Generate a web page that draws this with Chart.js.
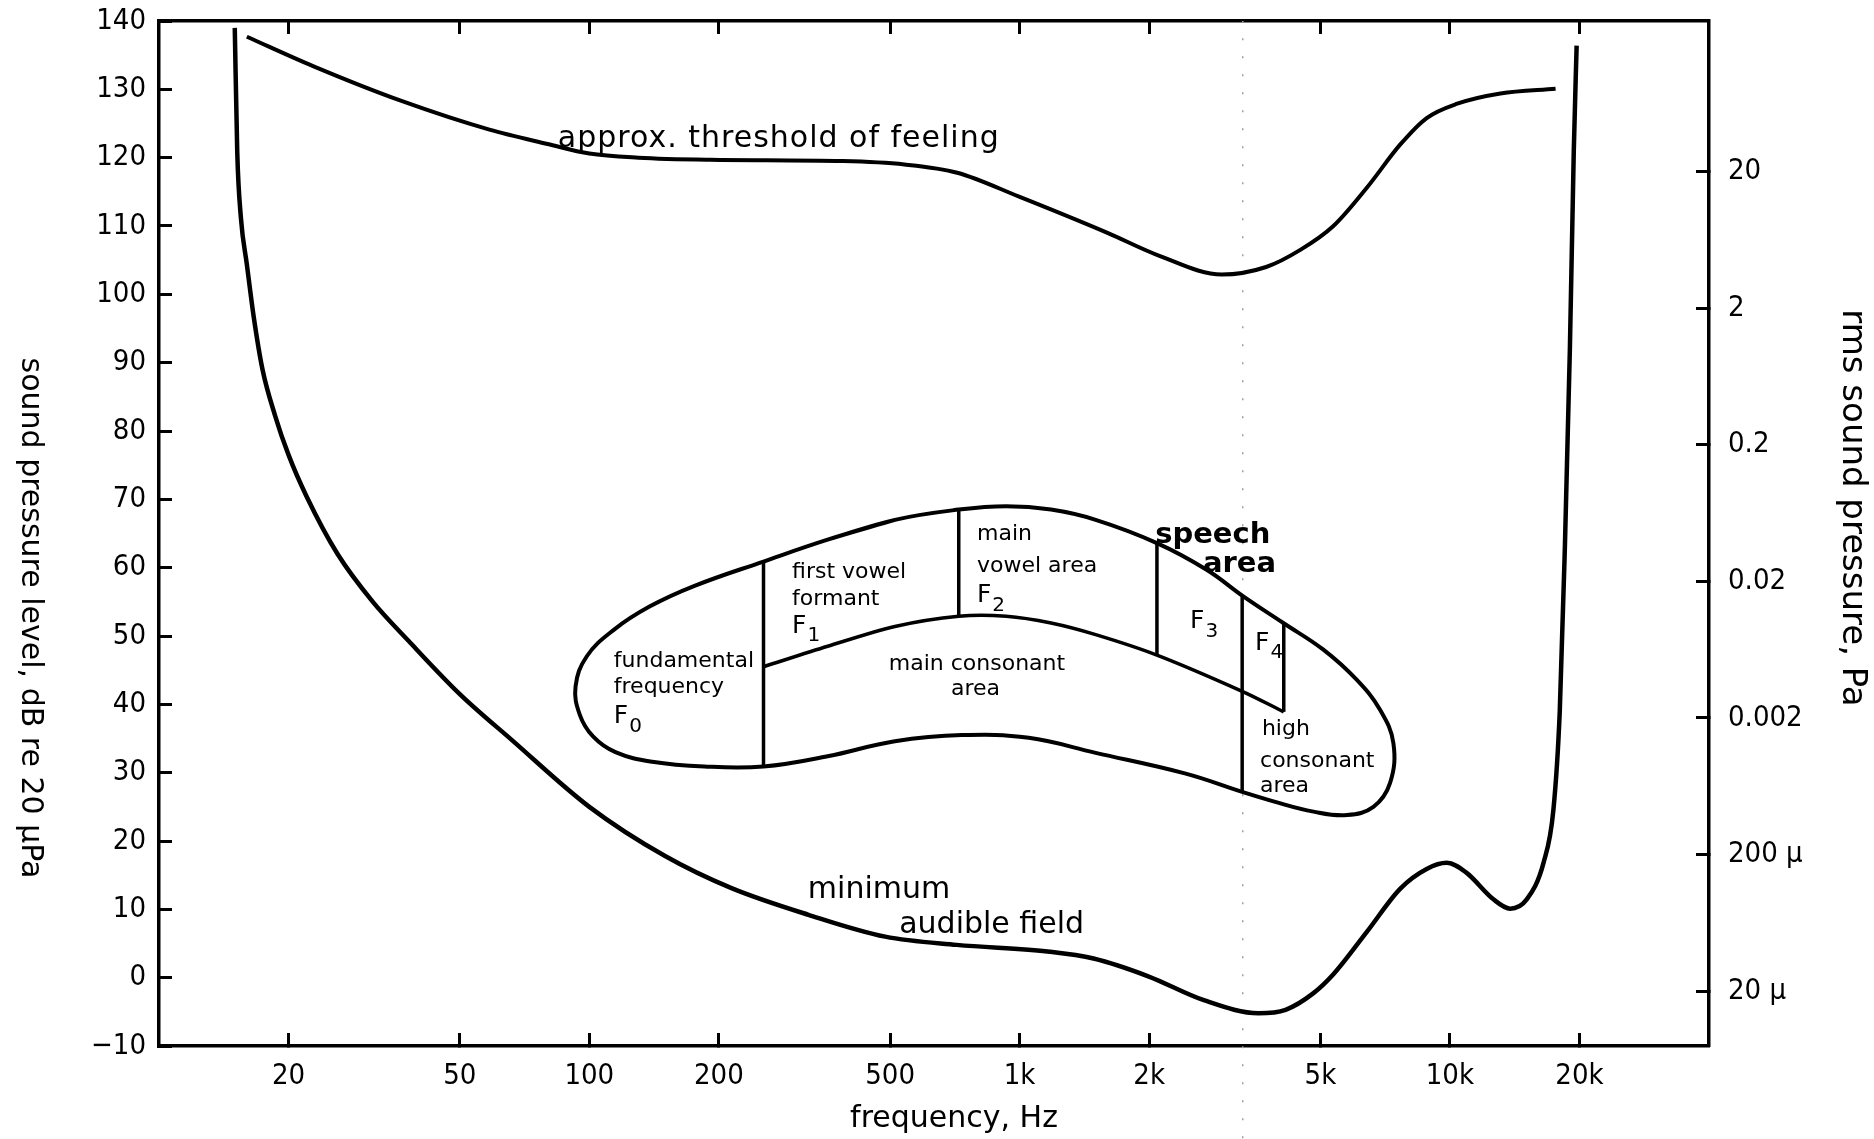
<!DOCTYPE html>
<html>
<head>
<meta charset="utf-8">
<title>Auditory field and speech area</title>
<script src="https://cdn.jsdelivr.net/npm/chart.js@4.4.1/dist/chart.umd.min.js"></script>
<style>
  html, body { margin: 0; padding: 0; background: #fff; }
  #wrap { width: 1874px; height: 1139px; position: relative; }
</style>
</head>
<body>
<div id="wrap"><canvas id="chart"></canvas></div>
<script>
"use strict";

const TICK_FONT = "'DejaVu Sans Condensed', 'DejaVu Sans', sans-serif";
const TEXT_FONT = "'DejaVu Sans', sans-serif";

// frequency axis (Hz)
const xTickValues = [20, 50, 100, 200, 500, 1000, 2000, 5000, 10000, 20000];
const xTickLabels = ["20", "50", "100", "200", "500", "1k", "2k", "5k", "10k", "20k"];

// sound pressure level axis (dB re 20 µPa)
const yTickValues = [-10, 0, 10, 20, 30, 40, 50, 60, 70, 80, 90, 100, 110, 120, 130, 140];
const yTickLabels = ["\u221210", "0", "10", "20", "30", "40", "50", "60", "70", "80", "90", "100", "110", "120", "130", "140"];

// rms sound pressure axis: where each Pa tick sits on the dB scale as printed
const paTickDb = [118, 98, 78, 58, 38, 18, -2];
const paTickLabels = ["20", "2", "0.2", "0.02", "0.002", "200 \u00b5", "20 \u00b5"];

// approx. threshold of feeling
const feelFreq = [16, 22.8, 36.6, 58.6, 80, 100, 130, 191, 388, 540, 716, 997, 1600, 2120, 2950, 3740, 4490, 5360, 6410, 7660, 8830, 10400, 13100, 17600];
const feelDb = [137.7, 133.4, 128.3, 124.1, 122, 120.6, 120, 119.7, 119.5, 119.0, 117.8, 114.3, 109, 105.6, 102.9, 104, 106.5, 110, 115.6, 121.9, 125.8, 127.9, 129.4, 130.1];

// minimum audible field
const mafFreq = [15, 15.2, 15.5, 16, 16.6, 17.4, 18.6, 20, 22, 26, 31.4, 38, 50, 66, 100, 150, 214, 323, 487, 714, 1175, 1485, 1990, 2680, 3590, 4150, 4810, 5360, 6410, 7660, 8830, 9830, 10900, 12600, 13800, 15100, 16500, 17400, 18000, 18500, 19000, 19400, 19700];
const mafDb = [139, 120.8, 111.2, 104.4, 96.7, 89, 82.3, 76.5, 70.5, 62, 55, 49.3, 41.5, 34.8, 25, 17.8, 13.1, 9.2, 6, 4.8, 3.8, 2.8, 0.2, -3.3, -5.2, -4.7, -2.3, 0.5, 6.7, 13, 15.9, 16.8, 15.4, 11.5, 10.1, 11.5, 16.8, 24.6, 39, 63.1, 92, 120.9, 136.4];

// speech area outline, clockwise from the top edge; the last two points retrace the first stretch to close it smoothly
const speechFreq = [358, 513, 722, 931, 1183, 1502, 2085, 2720, 3310, 4100, 5080, 6070, 6880, 7390, 7260, 6640, 5760, 4820, 3890, 3290, 2420, 1502, 1050, 734, 513, 358, 254, 185, 140, 115, 102, 95, 92.9, 98.6, 114, 138, 175, 254, 358, 513];
const speechDb = [64.1, 67.0, 68.5, 69.0, 68.5, 67.0, 63.6, 59.7, 55.8, 51.9, 48.0, 43.6, 39.2, 34.3, 28.5, 25.0, 23.8, 24.3, 25.8, 27.2, 29.9, 32.9, 35.1, 35.5, 34.6, 32.4, 30.9, 30.9, 31.6, 33.0, 35.3, 38.5, 42.6, 47.0, 50.9, 54.3, 57.3, 60.9, 64.1, 67.0];

// boundary between vowel and consonant areas
const splitFreq = [254, 358, 513, 722, 931, 1183, 1502, 2085, 3290, 4110];
const splitDb = [45.5, 48.5, 51.4, 52.9, 52.9, 51.9, 50.2, 47.2, 41.9, 38.9];

// vertical dividers inside the speech area
const dividerFreq = [254, 722, 2085, 3290, 4110];
const dividerLow = [30.9, 52.9, 47.2, 27.2, 38.9];
const dividerHigh = [60.9, 68.5, 63.6, 55.8, 51.9];

// faint dotted guide (runs on below the frame, as in the figure)
const guideFreq = 3300;
const guideDb = [-23.5, 140];

const toPoints = (xs, ys) => xs.map((x, i) => ({ x, y: ys[i] }));

const notes = [
  { text: "approx. threshold of feeling", f: 84.5, db: 121.5, size: 30, spacing: 1 },
  { text: "minimum", f: 322, db: 11.7, size: 30 },
  { text: "audible field", f: 525, db: 6.5, size: 30 },
  { text: "speech", f: 2065, db: 63.6, size: 29, weight: "bold" },
  { text: "area", f: 2667, db: 59.4, size: 29, weight: "bold" },
  { text: "fundamental", f: 114, db: 45.5, size: 22 },
  { text: "frequency", f: 114, db: 41.7, size: 22 },
  { text: "F", sub: "0", f: 114, db: 37.2, size: 25 },
  { text: "first vowel", f: 296, db: 58.5, size: 22 },
  { text: "formant", f: 296, db: 54.6, size: 22 },
  { text: "F", sub: "1", f: 296, db: 50.5, size: 25 },
  { text: "main", f: 796, db: 64.1, size: 22 },
  { text: "vowel area", f: 796, db: 59.4, size: 22 },
  { text: "F", sub: "2", f: 796, db: 55.0, size: 25 },
  { text: "main consonant", f: 796, db: 45.0, size: 22, align: "center" },
  { text: "area", f: 790, db: 41.4, size: 22, align: "center" },
  { text: "F", sub: "3", f: 2489, db: 51.2, size: 25 },
  { text: "F", sub: "4", f: 3525, db: 48.0, size: 25 },
  { text: "high", f: 3656, db: 35.5, size: 22 },
  { text: "consonant", f: 3620, db: 30.8, size: 22 },
  { text: "area", f: 3620, db: 27.2, size: 22 }
];

const lineStyle = (width) => ({
  borderColor: "#000",
  borderWidth: width,
  pointRadius: 0,
  fill: false,
  xAxisID: "x",
  yAxisID: "y"
});

const datasets = [
  { ...lineStyle(4), data: toPoints(feelFreq, feelDb), cubicInterpolationMode: "monotone" },
  { ...lineStyle(4.5), data: toPoints(mafFreq, mafDb), cubicInterpolationMode: "monotone" },
  { ...lineStyle(4), data: toPoints(speechFreq, speechDb), tension: 0.4 },
  { ...lineStyle(3.5), data: toPoints(splitFreq, splitDb), tension: 0.3 },
  ...dividerFreq.map((f, i) => ({
    ...lineStyle(3.5),
    data: [{ x: f, y: dividerLow[i] }, { x: f, y: dividerHigh[i] }],
    tension: 0
  })),
  {
    ...lineStyle(1.5),
    borderColor: "#a0a0a0",
    borderDash: [2, 16],
    data: guideDb.map((db) => ({ x: guideFreq, y: db })),
    tension: 0,
    clip: false
  }
];

const innerGrid = {
  drawOnChartArea: false,
  drawTicks: true,
  tickLength: -13,
  tickWidth: 3,
  tickColor: "#000"
};
const frame = { display: true, width: 3.5, color: "#000" };
const tickFont = { family: TICK_FONT, size: 29 };

// drop the label overhang padding so the frame sits where the figure has it
const noOverhang = (scale) => {
  scale.paddingTop = 0;
  scale.paddingBottom = 0;
  scale.paddingLeft = 0;
  scale.paddingRight = 0;
};

const textPlugin = {
  id: "figureText",
  afterDraw(chart) {
    const { ctx } = chart;
    const xs = chart.scales.x;
    const ys = chart.scales.y;
    ctx.save();
    ctx.fillStyle = "#000";
    ctx.textBaseline = "alphabetic";
    notes.forEach((n) => {
      ctx.font = `${n.weight || "normal"} ${n.size}px ${TEXT_FONT}`;
      ctx.letterSpacing = `${n.spacing || 0}px`;
      ctx.textAlign = n.align || "left";
      const px = xs.getPixelForValue(n.f);
      const py = ys.getPixelForValue(n.db);
      ctx.fillText(n.text, px, py);
      if (n.sub) {
        const w = ctx.measureText(n.text).width;
        ctx.font = `${Math.round(n.size * 0.8)}px ${TEXT_FONT}`;
        ctx.fillText(n.sub, px + w + 1, py + n.size * 0.35);
      }
    });
    ctx.letterSpacing = "0px";

    ctx.font = `30px ${TEXT_FONT}`;
    ctx.textAlign = "center";
    ctx.fillText("frequency, Hz", 954, 1127);

    ctx.textBaseline = "middle";
    ctx.translate(30, 618);
    ctx.rotate(Math.PI / 2);
    ctx.fillText("sound pressure level, dB re 20 \u00b5Pa", 0, 0);
    ctx.setTransform(1, 0, 0, 1, 0, 0);
    ctx.font = `34px ${TEXT_FONT}`;
    ctx.translate(1852, 508);
    ctx.rotate(Math.PI / 2);
    ctx.fillText("rms sound pressure, Pa", 0, 0);
    ctx.restore();
  }
};

new Chart(document.getElementById("chart"), {
  type: "line",
  data: { datasets },
  options: {
    responsive: true,
    maintainAspectRatio: false,
    animation: false,
    layout: { padding: { top: 21, left: 0, right: 0, bottom: 0 } },
    plugins: {
      legend: { display: false },
      tooltip: { enabled: false }
    },
    scales: {
      x: {
        type: "logarithmic",
        position: "bottom",
        min: 10,
        max: 40000,
        afterBuildTicks: (scale) => { scale.ticks = xTickValues.map((v) => ({ value: v })); },
        afterFit: (scale) => { scale.height = 93; noOverhang(scale); },
        ticks: {
          autoSkip: false,
          maxRotation: 0,
          padding: 26,
          color: "#000",
          font: tickFont,
          callback: (value, index) => xTickLabels[index]
        },
        grid: innerGrid,
        border: frame
      },
      xTop: {
        type: "logarithmic",
        position: "top",
        min: 10,
        max: 40000,
        afterBuildTicks: (scale) => { scale.ticks = xTickValues.map((v) => ({ value: v })); },
        afterFit: (scale) => { scale.height = 0; noOverhang(scale); },
        ticks: { display: false },
        grid: innerGrid,
        border: frame
      },
      y: {
        type: "linear",
        position: "left",
        min: -10,
        max: 140,
        afterBuildTicks: (scale) => { scale.ticks = yTickValues.map((v) => ({ value: v })); },
        afterFit: (scale) => { scale.width = 159; noOverhang(scale); },
        ticks: {
          autoSkip: false,
          padding: 26,
          color: "#000",
          font: tickFont,
          callback: (value, index) => yTickLabels[index]
        },
        grid: innerGrid,
        border: frame
      },
      yRight: {
        type: "linear",
        position: "right",
        min: -10,
        max: 140,
        afterBuildTicks: (scale) => { scale.ticks = paTickDb.map((v) => ({ value: v })); },
        afterFit: (scale) => { scale.width = 165; noOverhang(scale); },
        ticks: {
          autoSkip: false,
          padding: 32,
          color: "#000",
          font: tickFont,
          callback: (value, index) => paTickLabels[index]
        },
        grid: innerGrid,
        border: frame
      }
    }
  },
  plugins: [textPlugin]
});
</script>
</body>
</html>
